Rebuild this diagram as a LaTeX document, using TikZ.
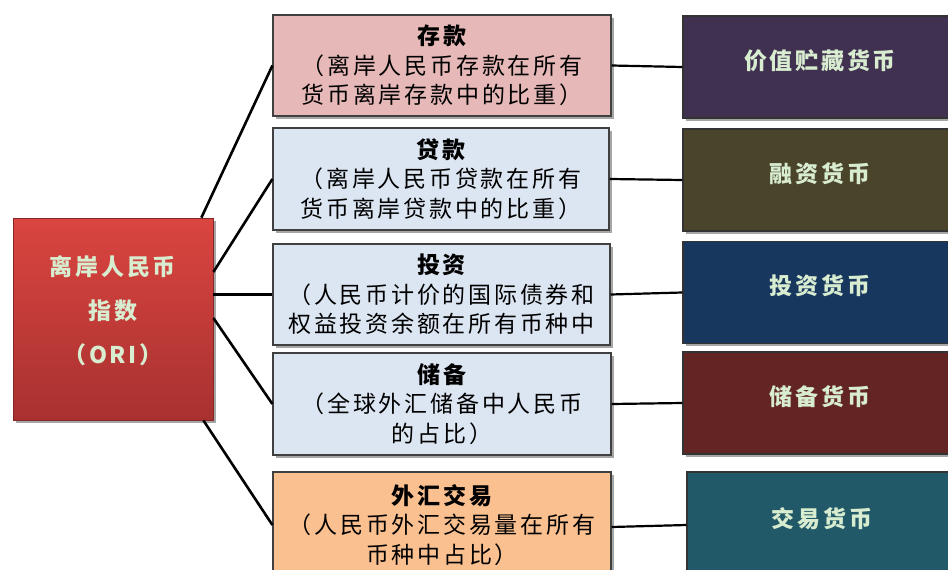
\documentclass[tikz,border=0pt]{standalone}
\usepackage{fontspec}
\setmainfont{Noto Sans CJK SC}[LetterSpace=12]
\usetikzlibrary{shadows,calc}
\definecolor{pinkbox}{HTML}{E6B9B8}
\definecolor{bluebox}{HTML}{DCE6F2}
\definecolor{orangebox}{HTML}{FAC090}
\definecolor{redtop}{HTML}{DA4540}
\definecolor{redbot}{HTML}{A83130}
\definecolor{cpurple}{HTML}{403151}
\definecolor{colive}{HTML}{4A452A}
\definecolor{cnavy}{HTML}{17375E}
\definecolor{cdred}{HTML}{632523}
\definecolor{cteal}{HTML}{215968}
\definecolor{mint}{HTML}{D8ECD0}
\begin{document}
\begin{tikzpicture}[x=1pt,y=-1pt,
  shad/.style={drop shadow={shadow xshift=2.5pt,shadow yshift=-2.5pt,opacity=0.35,fill=black}},
  midbox/.style={shad,draw=black!75,line width=1.2pt,minimum width=338pt,minimum height=101pt,
    inner sep=0pt,align=center,text=black,font=\fontsize{23pt}{29.5pt}\selectfont},
  rbox/.style={shad,draw=black!80,line width=1.2pt,minimum width=274pt,minimum height=102pt,
    inner sep=0pt,text=mint,font=\bfseries\fontsize{23pt}{28pt}\selectfont,
    text height=14pt,text depth=10pt},
  conn/.style={line width=2.6pt,black},
  conn2/.style={line width=2.2pt,black}]
\useasboundingbox (0,0) rectangle (948,570);
\clip (0,0) rectangle (948,570);
\fill[white] (0,0) rectangle (948,570);

% left box
\node[shad,draw=redbot!80!black,line width=0.8pt,top color=redtop,bottom color=redbot,
  minimum width=200pt,minimum height=202pt,inner sep=0pt,
  label={[yshift=8pt,align=center,text=mint,font=\bfseries\fontsize{23pt}{44pt}\selectfont]center:离岸人民币\\指数\\（ORI）}]
  (L) at (113,319) {};

% middle boxes
\node[midbox,fill=pinkbox] (D) at (442,65.5) {{\bfseries 存款}\\（离岸人民币存款在所有\\货币离岸存款中的比重）};
\node[midbox,fill=bluebox,minimum width=336pt,minimum height=102pt] (Lo) at (441,179) {{\bfseries 贷款}\\（离岸人民币贷款在所有\\货币离岸贷款中的比重）};
\node[midbox,fill=bluebox,minimum width=337pt] (I) at (441.5,294.5) {{\bfseries 投资}\\（人民币计价的国际债券和\\权益投资余额在所有币种中};
\node[midbox,fill=bluebox,minimum height=102pt] (R) at (442,404) {{\bfseries 储备}\\（全球外汇储备中人民币\\的占比）};
\node[midbox,fill=orangebox,minimum height=106pt] (F) at (442,525) {{\bfseries 外汇交易}\\（人民币外汇交易量在所有\\币种中占比）};

% right boxes
\node[rbox,fill=cpurple] (A) at (820,67) {价值贮藏货币};
\node[rbox,fill=colive] (B) at (820,180) {融资货币};
\node[rbox,fill=cnavy] (C) at (820,292.5) {投资货币};
\node[rbox,fill=cdred] (Dd) at (820,403) {储备货币};
\node[rbox,fill=cteal,minimum width=270pt,minimum height=106pt] (E) at (822,525) {交易货币};

% connectors left
\draw[conn] ([xshift=-12pt]L.north east) -- (D.west);
\draw[conn] ([yshift=47pt]L.east) -- (Lo.west);
\draw[conn] ([yshift=24.5pt]L.east) -- (I.west);
\draw[conn] ([yshift=1pt]L.east) -- (R.west);
\draw[conn] ([xshift=-10pt]L.south east) -- (F.west);

% connectors right
\draw[conn2] (D.east) -- (A.west);
\draw[conn2] (Lo.east) -- (B.west);
\draw[conn2] (I.east) -- (C.west);
\draw[conn2] (R.east) -- (Dd.west);
\draw[conn2] ([yshift=-2pt]F.east) -- (E.west);
\end{tikzpicture}
\end{document}
